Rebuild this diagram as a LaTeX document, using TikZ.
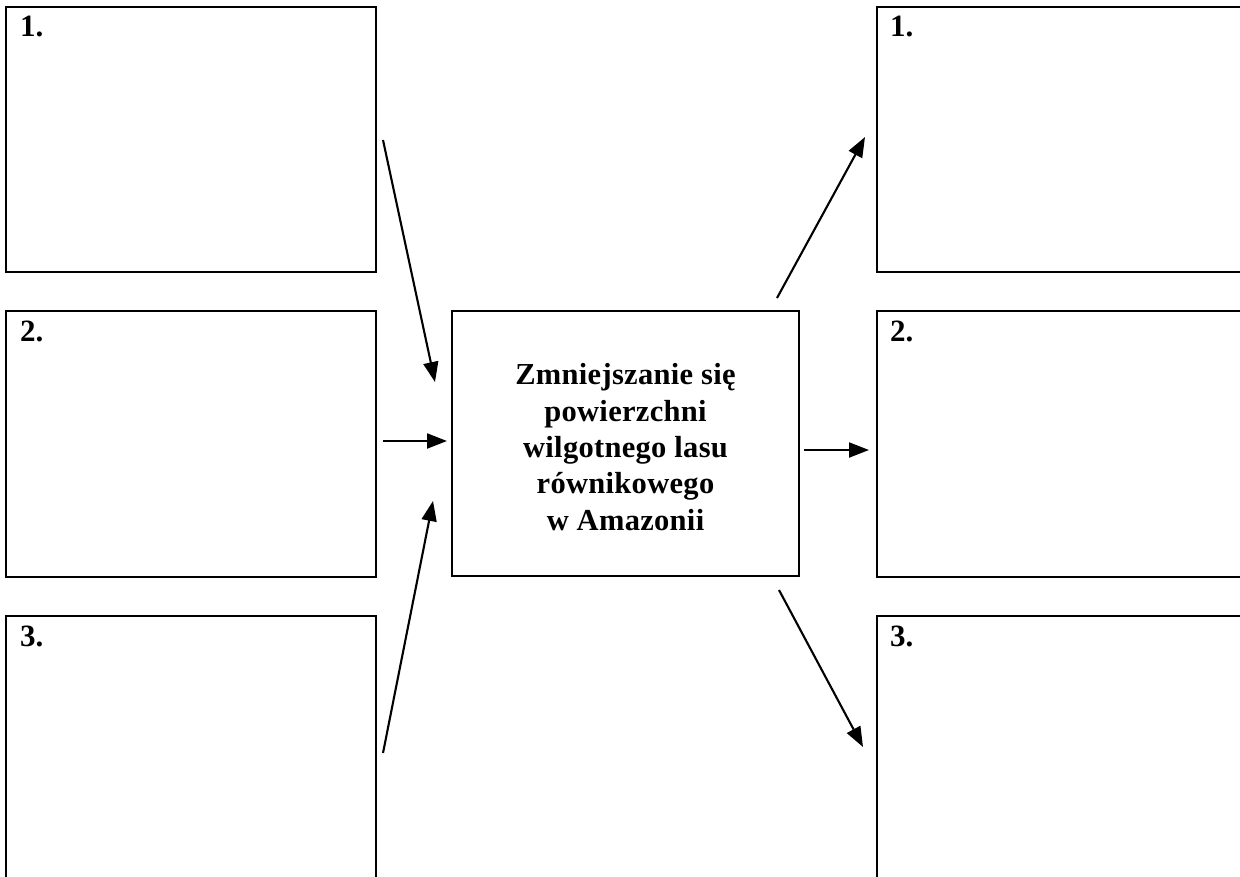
\documentclass[tikz,border=0pt]{standalone}
\usepackage{fontspec}
\setmainfont{Liberation Serif}
\newfontfamily\ctrfont[LetterSpace=1]{Liberation Serif}
\usetikzlibrary{arrows.meta}
\begin{document}
\begin{tikzpicture}[x=1pt,y=-1pt,
  box/.style={draw=black, line width=1.7pt, inner sep=0pt},
  numlabel/.style={font=\bfseries\fontsize{31}{32}\selectfont, anchor=base west, inner sep=0pt},
  arr/.style={line width=2.1pt, -{Triangle[length=20pt,width=15pt]}}
]
\clip (0,0) rectangle (1240,876);
\fill[white] (0,0) rectangle (1240,876);
% left boxes
\node[box, minimum width=370pt, minimum height=265pt] (L1) at (191,139.5) {};
\node[box, minimum width=370pt, minimum height=266pt] (L2) at (191,444) {};
\node[box, minimum width=370pt, minimum height=280pt] (L3) at (191,756) {};
% right boxes
\node[box, minimum width=380pt, minimum height=265pt] (R1) at (1067,139.5) {};
\node[box, minimum width=380pt, minimum height=266pt] (R2) at (1067,444) {};
\node[box, minimum width=380pt, minimum height=280pt] (R3) at (1067,756) {};
% numbers
\node[numlabel] (nL1) at (20,36) {1.};
\node[numlabel] (nL2) at (20,341) {2.};
\node[numlabel] (nL3) at (20,646) {3.};
\node[numlabel] (nR1) at (890,36) {1.};
\node[numlabel] (nR2) at (890,341) {2.};
\node[numlabel] (nR3) at (890,646) {3.};
% centre box
\node[box, minimum width=347pt, minimum height=265pt] (C) at (625.5,443.5) {};
\node[align=center, inner sep=0pt, font=\ctrfont\bfseries\fontsize{30.5}{36.3}\selectfont] (Ct) at (625.5,447)
  {Zmniejszanie się\\powierzchni\\wilgotnego lasu\\równikowego\\w Amazonii};
% arrow end points
\coordinate (a1s) at (383,140);  \coordinate (a1e) at (435,382);
\coordinate (a2s) at (383,441);  \coordinate (a2e) at (447,441);
\coordinate (a3s) at (383,753);  \coordinate (a3e) at (433,501);
\coordinate (b1s) at (777,298);  \coordinate (b1e) at (865,137);
\coordinate (b2s) at (804,450);  \coordinate (b2e) at (869,450);
\coordinate (b3s) at (779,590);  \coordinate (b3e) at (863,747);
\draw[arr] (a1s) -- (a1e);
\draw[arr] (a2s) -- (a2e);
\draw[arr] (a3s) -- (a3e);
\draw[arr] (b1s) -- (b1e);
\draw[arr] (b2s) -- (b2e);
\draw[arr] (b3s) -- (b3e);
\end{tikzpicture}
\end{document}
